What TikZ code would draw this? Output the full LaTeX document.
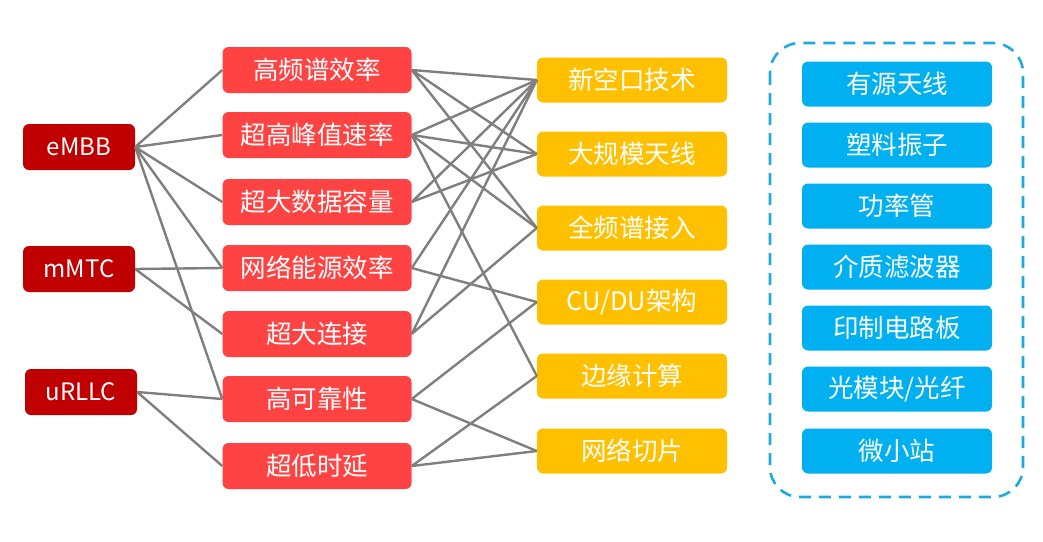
\documentclass[tikz,border=0pt]{standalone}
\usepackage{fontspec}
\setmainfont{Noto Sans CJK SC}
\definecolor{goalred}{HTML}{C00000}
\definecolor{perfred}{HTML}{FF4343}
\definecolor{techyel}{HTML}{FFC000}
\definecolor{partblue}{HTML}{00B0F0}
\definecolor{dashblue}{HTML}{1FA9E1}
\definecolor{linkgray}{HTML}{7F7F7F}
\begin{document}
\begin{tikzpicture}[x=1pt, y=-1pt,
  box/.style={rounded corners=6pt, text=white, inner sep=0pt, font=\fontsize{25.5}{26}\selectfont},
  goal/.style={box, fill=goalred, minimum width=112pt, minimum height=46pt, font=\fontsize{24}{24}\selectfont},
  perf/.style={box, fill=perfred, minimum width=189pt, minimum height=46pt},
  tech/.style={box, fill=techyel, minimum width=190pt, minimum height=45pt},
  part/.style={box, fill=partblue, minimum width=190pt, minimum height=45pt},
  link/.style={draw=linkgray, line width=2.4pt}]
\useasboundingbox (0,0) rectangle (1043,541);
% scenarios
\node[goal] (embb) at (79,147) {eMBB};
\node[goal] (mmtc) at (79,269) {mMTC};
\node[goal] (urllc) at (81,392) {uRLLC};
% key indicators
\node[perf] (hsp) at (317,70) {高频谱效率};
\node[perf] (peak) at (317,135) {超高峰值速率};
\node[perf] (cap) at (317,202) {超大数据容量};
\node[perf] (nee) at (317,268) {网络能源效率};
\node[perf] (conn) at (317,334) {超大连接};
\node[perf] (rel) at (317,399) {高可靠性};
\node[perf] (lat) at (317,466) {超低时延};
% technologies
\node[tech] (nr) at (632,80) {新空口技术};
\node[tech] (mimo) at (632,154) {大规模天线};
\node[tech] (fsa) at (632,228) {全频谱接入};
\node[tech] (cudu) at (632,302) {CU/DU架构};
\node[tech] (mec) at (632,376) {边缘计算};
\node[tech] (slice) at (632,451) {网络切片};
% components
\draw[dashblue, line width=2.6pt, dash pattern=on 12pt off 8pt, rounded corners=30pt]
  (770,43) rectangle (1023,497);
\node[part] (aau) at (897,84) {有源天线};
\node[part] (dip) at (897,145) {塑料振子};
\node[part] (pa) at (897,206) {功率管};
\node[part] (filt) at (897,267) {介质滤波器};
\node[part] (pcb) at (897,328) {印制电路板};
\node[part] (optic) at (897,389) {光模块/光纤};
\node[part] (small) at (897,451) {微小站};
% scenario -> indicator
\draw[link] (embb.east) -- (hsp.west) (embb.east) -- (peak.west) (embb.east) -- (cap.west)
  (embb.east) -- (nee.west) (embb.east) -- (rel.west);
\draw[link] (mmtc.east) -- (nee.west) (mmtc.east) -- (conn.west);
\draw[link] (urllc.east) -- (rel.west) (urllc.east) -- (lat.west);
% indicator -> technology
\draw[link] (hsp.east) -- (nr.west) (hsp.east) -- (mimo.west) (hsp.east) -- (fsa.west);
\draw[link] (peak.east) -- (nr.west) (peak.east) -- (mimo.west) (peak.east) -- (fsa.west)
  (peak.east) -- (mec.west);
\draw[link] (cap.east) -- (nr.west) (cap.east) -- (mimo.west);
\draw[link] (nee.east) -- (nr.west) (nee.east) -- (cudu.west);
\draw[link] (conn.east) -- (nr.west) (conn.east) -- (fsa.west);
\draw[link] (rel.east) -- (cudu.west) (rel.east) -- (slice.west);
\draw[link] (lat.east) -- (mec.west) (lat.east) -- (slice.west);
\end{tikzpicture}
\end{document}
